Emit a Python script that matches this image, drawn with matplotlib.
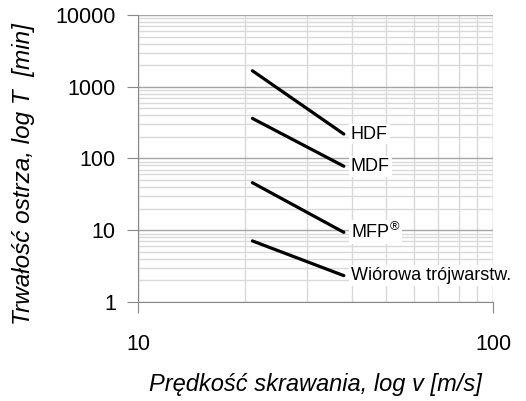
import numpy as np
import matplotlib.pyplot as plt
from matplotlib.ticker import NullFormatter

plt.rcParams['font.family'] = ['Liberation Sans', 'DejaVu Sans']
plt.rcParams['mathtext.fontset'] = 'custom'
plt.rcParams['mathtext.rm'] = 'Liberation Sans'

# cutting speed range [m/s]
v = [21, 38]
# tool life T [min] at start / end of the range
materials = ['HDF', 'MDF', 'MFP$^{®}$', 'Wiórowa trójwarstw.']
T_start = [1670, 362, 46, 7.1]
T_end = [219, 78, 9.35, 2.33]

fig = plt.figure(figsize=(5.26, 4.01), dpi=100)
ax = fig.add_axes([0.2624, 0.2469, 0.6749, 0.7157])

for name, t0, t1 in zip(materials, T_start, T_end):
    ax.plot(v, [t0, t1], color='black', lw=2.3, solid_capstyle='round', zorder=3)
    ax.annotate(name, xy=(v[1], t1), xytext=(5, 0), textcoords='offset points',
                ha='left', va='center', fontsize=13, annotation_clip=False,
                bbox=dict(boxstyle='square,pad=0.1', fc='white', ec='none'), zorder=4)

ax.set_xscale('log')
ax.set_yscale('log')
ax.set_xlim(10, 100)
ax.set_ylim(1, 10000)

ax.grid(which='major', color='#a6a6a6', lw=1)
ax.grid(which='minor', color='#d9d9d9', lw=1)
ax.set_axisbelow(True)

ax.spines['top'].set_visible(False)
ax.spines['right'].set_visible(False)
ax.spines['left'].set_color('#888888')
ax.spines['bottom'].set_color('#888888')

ax.set_xticks([10, 100], ['10', '100'])
ax.set_yticks([1, 10, 100, 1000, 10000], ['1', '10', '100', '1000', '10000'])
ax.xaxis.set_minor_formatter(NullFormatter())
ax.yaxis.set_minor_formatter(NullFormatter())
ax.tick_params(which='minor', length=0)
ax.tick_params(axis='x', which='major', length=8, color='#888888', pad=15, labelsize=15.5)
ax.tick_params(axis='y', which='major', length=8, color='#888888', pad=8, labelsize=15.5)

ax.set_xlabel('Prędkość skrawania, log v [m/s]', fontsize=17, style='italic', labelpad=13)
ax.set_ylabel('Trwałość ostrza, log T  [min]', fontsize=17.5, style='italic')
ax.yaxis.set_label_coords(-0.29, 0.445)

plt.savefig('out.png', dpi=100)
